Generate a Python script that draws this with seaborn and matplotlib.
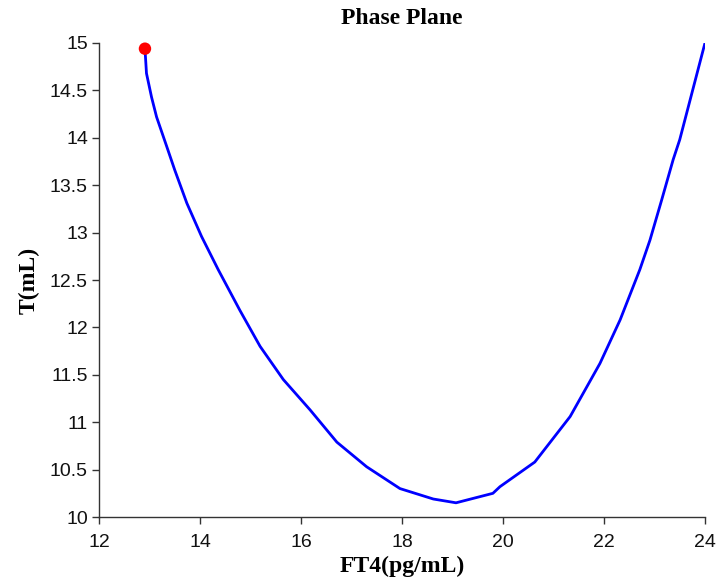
import matplotlib
matplotlib.use('Agg')
import matplotlib.pyplot as plt
import seaborn as sns
import pandas as pd

# 相平面轨迹 (FT4, T)
ft4 = [12.91, 12.94, 13.04, 13.14, 13.34, 13.50, 13.74, 14.03, 14.36, 14.79,
       15.19, 15.65, 16.18, 16.71, 17.30, 17.96, 18.62, 19.07, 19.80, 19.94,
       20.63, 21.33, 21.92, 22.32, 22.71, 22.91, 23.14, 23.37, 23.5, 24.0]
t_ml = [14.94, 14.68, 14.43, 14.22, 13.91, 13.66, 13.31, 12.96, 12.61, 12.18,
        11.80, 11.45, 11.13, 10.79, 10.53, 10.30, 10.19, 10.15, 10.25, 10.32,
        10.58, 11.06, 11.62, 12.08, 12.61, 12.92, 13.34, 13.77, 13.98, 15.0]
start_ft4 = [12.91]
start_t = [14.94]

x_ticks = [12, 14, 16, 18, 20, 22, 24]
y_ticks = [10, 10.5, 11, 11.5, 12, 12.5, 13, 13.5, 14, 14.5, 15]
y_labels = ["10", "10.5", "11", "11.5", "12", "12.5", "13", "13.5", "14", "14.5", "15"]

sns.set_style("ticks")
plt.rcParams['font.family'] = ['Liberation Sans', 'DejaVu Sans']

df = pd.DataFrame({"FT4": ft4, "T": t_ml})
dot = pd.DataFrame({"FT4": start_ft4, "T": start_t})

fig = plt.figure(figsize=(7.19, 5.85), dpi=100)
ax = fig.add_axes([0.1377, 0.1162, 0.8428, 0.8103])

sns.lineplot(data=df, x="FT4", y="T", sort=False, color="#0000ff", lw=2.0, ax=ax)
sns.scatterplot(data=dot, x="FT4", y="T", color="#ff0000", s=80, edgecolor="none",
                zorder=5, ax=ax, clip_on=False)

ax.set_xlim(12, 24)
ax.set_ylim(10, 15)
ax.set_xticks(x_ticks)
ax.set_yticks(y_ticks)
ax.set_yticklabels(y_labels)
ax.tick_params(axis="both", direction="out", length=5, width=1, color="#333333",
               labelsize=14, labelcolor="#111111")
ax.tick_params(axis="x", pad=7)
ax.tick_params(axis="y", pad=3)
for s in ["top", "right"]:
    ax.spines[s].set_visible(False)
for s in ["left", "bottom"]:
    ax.spines[s].set_color("#333333")
    ax.spines[s].set_linewidth(1)

serif = {"family": ["Liberation Serif", "DejaVu Serif"], "weight": "bold", "size": 17,
         "color": "black"}
ax.set_title("Phase Plane", fontdict=serif, pad=14)
ax.set_xlabel("FT4(pg/mL)", fontdict=serif, labelpad=4)
ax.set_ylabel("T(mL)", fontdict=serif, labelpad=7)

fig.savefig("out.png", dpi=100)
plt.close(fig)
